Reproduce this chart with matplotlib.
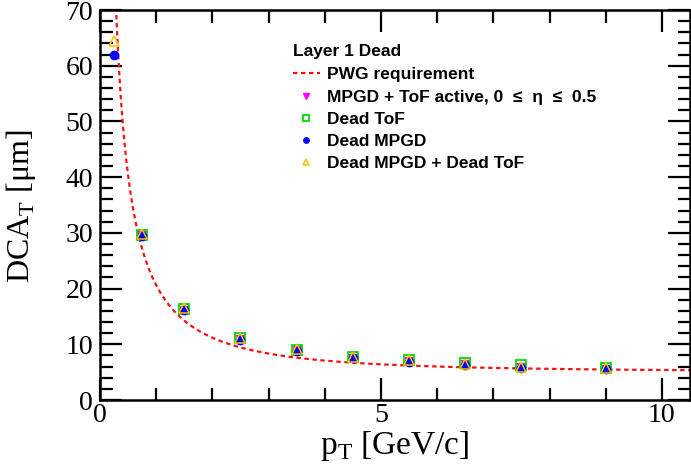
import matplotlib
matplotlib.use("Agg")
import matplotlib.pyplot as plt
import numpy as np
from matplotlib.ticker import MultipleLocator

# measured points (pT in GeV/c, DCA_T in um)
pt = [0.25, 0.75, 1.5, 2.5, 3.5, 4.5, 5.5, 6.5, 7.5, 9.0]
dca_active = [np.nan, 29.6, 16.2, 10.9, 8.9, 7.6, 7.0, 6.4, 6.0, 5.6]
dca_dead_tof = [np.nan, 29.7, 16.4, 11.1, 9.0, 7.7, 7.2, 6.6, 6.3, 5.7]
dca_dead_mpgd = [62.0, 29.4, 16.1, 10.8, 8.8, 7.5, 6.9, 6.3, 5.8, 5.5]
dca_dead_both = [64.5, 29.8, 16.5, 11.1, 9.1, 7.8, 7.2, 6.5, 6.0, 5.7]

# PWG requirement: a/pT (+) b
req_a = 20.0
req_b = 5.0

serif = ["Liberation Serif", "DejaVu Serif"]
sans = ["Liberation Sans", "DejaVu Sans"]

fig = plt.figure(figsize=(6.91, 4.74), dpi=100)
ax = fig.add_axes([100 / 691, 74 / 474, 590 / 691, 390 / 474])

x_curve = np.linspace(0.2, 10.5, 600)
y_curve = np.sqrt((req_a / x_curve) ** 2 + req_b ** 2)
ax.plot(x_curve, y_curve, color="#ff1010", lw=1.6, dashes=(2.0, 1.6),
        label="PWG requirement", zorder=2)

ax.plot(pt, dca_active, ls="none", marker="v", ms=6, color="#ff00ff",
        label="MPGD + ToF active, 0  \u2264  \u03b7  \u2264  0.5", zorder=3)
ax.plot(pt, dca_dead_tof, ls="none", marker="s", ms=7, mfc="none", mew=1.3,
        color="#00dd00", label="Dead ToF", zorder=3)
ax.plot(pt, dca_dead_mpgd, ls="none", marker="o", ms=6, color="#0000ff",
        label="Dead MPGD", zorder=4)
ax.plot(pt, dca_dead_both, ls="none", marker="^", ms=7, mfc="none", mew=1.1,
        color="#ffc000", label="Dead MPGD + Dead ToF", zorder=5)

ax.set_xlim(0, 10.5)
ax.set_ylim(0, 70)
ax.xaxis.set_major_locator(MultipleLocator(5))
ax.xaxis.set_minor_locator(MultipleLocator(1))
ax.yaxis.set_major_locator(MultipleLocator(10))
ax.yaxis.set_minor_locator(MultipleLocator(2))
ax.tick_params(which="both", direction="in", top=True, right=True, width=1.6)
ax.tick_params(which="major", length=16, labelsize=20)
ax.tick_params(axis="x", which="major", pad=2)
ax.tick_params(axis="y", which="major", pad=5)
ax.tick_params(which="minor", length=9)
for lab in ax.get_xticklabels() + ax.get_yticklabels():
    lab.set_family(serif)
for sp in ax.spines.values():
    sp.set_linewidth(1.8)

ax.set_xlabel(r"p$_\mathregular{T}$ [GeV/c]", fontsize=24, family=serif)
ax.set_ylabel(r"DCA$_\mathregular{T}$ [$\mathregular{\mu}$m]", fontsize=23, family=serif)
ax.xaxis.set_label_coords(0.5, -0.075)
ax.yaxis.set_label_coords(-0.105, 0.496)

leg = ax.legend(loc="upper left", bbox_to_anchor=(293 / 691, 1 - 44 / 474),
                bbox_transform=fig.transFigure, frameon=False,
                title="Layer 1 Dead", handlelength=1.55, handletextpad=0.4,
                labelspacing=0.4, borderaxespad=0, borderpad=0, markerscale=0.65,
                prop={"family": sans, "weight": "bold", "size": 12.5})
leg.get_title().set_fontproperties({"family": sans, "weight": "bold", "size": 12.5})
leg._legend_box.align = "left"
leg._legend_box.sep = 6

fig.savefig("out.png", dpi=100)
